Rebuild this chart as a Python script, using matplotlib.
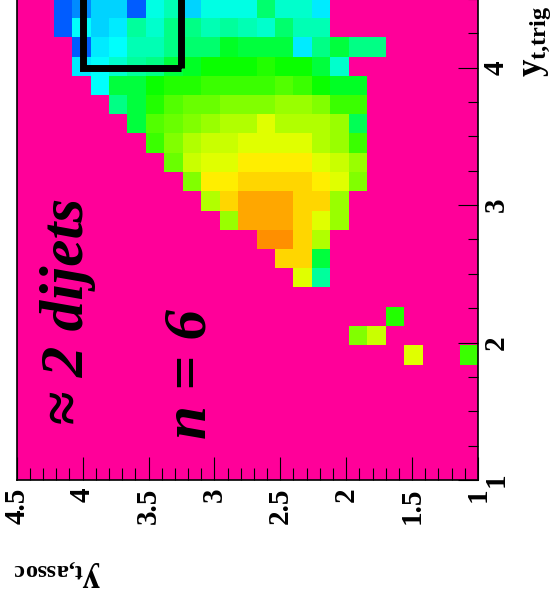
import colorsys
import numpy as np
import matplotlib
matplotlib.use("Agg")
import matplotlib.pyplot as plt
from matplotlib.colors import ListedColormap, Normalize
from matplotlib.patches import Rectangle
from matplotlib.ticker import MultipleLocator, FormatStrFormatter

plt.rcParams['font.family'] = ['Liberation Serif', 'DejaVu Serif']
plt.rcParams['font.weight'] = 'bold'
plt.rcParams['mathtext.fontset'] = 'custom'
plt.rcParams['mathtext.bf'] = 'Liberation Serif:bold'
plt.rcParams['mathtext.rm'] = 'Liberation Serif:bold'
plt.rcParams['mathtext.it'] = 'Liberation Serif:bold:italic'

# ---------------- data ----------------
# histogram range / binning (25 x 25 bins from 1 to 4.5)
assoc_edges = np.linspace(1.0, 4.5, 26)
trig_edges = np.linspace(1.0, 4.5, 26)

# cell contents in palette units (0 = empty), rows = y_t,trig bins (low -> high),
# columns = y_t,assoc bins (low -> high)
row06 = [30,0,0,37,0,0,0,0,0,0,0,0,0,0,0,0,0,0,0,0,0,0,0,0,0]
row07 = [0,0,0,0,0,36,33,0,0,0,0,0,0,0,0,0,0,0,0,0,0,0,0,0,0]
row08 = [0,0,0,0,29,0,0,0,0,0,0,0,0,0,0,0,0,0,0,0,0,0,0,0,0]
row09 = [0]*25
row10 = [0,0,0,0,0,0,0,0,21,37,0,0,0,0,0,0,0,0,0,0,0,0,0,0,0]
row11 = [0,0,0,0,0,0,0,0,25,40,40,0,0,0,0,0,0,0,0,0,0,0,0,0,0]
row12 = [0,0,0,0,0,0,0,0,35,40,43,43,0,0,0,0,0,0,0,0,0,0,0,0,0]
row13 = [0,0,0,0,0,0,0,34,37,40,42,42,42,34,0,0,0,0,0,0,0,0,0,0,0]
row14 = [0,0,0,0,0,0,0,34,40,40,42,42,42,40,35,0,0,0,0,0,0,0,0,0,0]
row15 = [0,0,0,0,0,0,33,37,39,40,40,40,40,39,39,33,0,0,0,0,0,0,0,0,0]
row16 = [0,0,0,0,0,0,34,36,37,39,39,39,39,37,37,36,32,0,0,0,0,0,0,0,0]
row17 = [0,0,0,0,0,0,30,34,35,37,37,37,37,36,36,35,33,30,0,0,0,0,0,0,0]
row18 = [0,0,0,0,0,0,24,34,35,35,35,37,35,35,34,33,32,31,25,0,0,0,0,0,0]
row19 = [0,0,0,0,0,0,30,30,33,34,34,33,33,33,32,32,31,29,25,22,0,0,0,0,0]
row20 = [0,0,0,0,0,0,26,26,28,30,31,30,30,30,30,29,29,28,25,25,17,0,0,0,0]
row21 = [0,0,0,0,0,0,0,19,25,28,28,29,28,28,28,26,25,22,21,19,17,16,0,0,0]
row22 = [0,0,0,0,0,22,22,25,22,16,25,25,25,26,23,23,22,20,20,17,16,10,0,0,0]
row23 = [0,0,0,0,0,0,0,0,20,20,23,19,20,21,20,22,22,19,21,16,15,17,10,0,0]
row24 = [0,0,0,0,0,0,0,0,16,19,19,23,18,18,18,15,20,18,10,15,15,12,10,0,0]
rows_low = [[0]*25 for _ in range(6)]
content = rows_low + [row06, row07, row08, row09, row10, row11, row12, row13,
                      row14, row15, row16, row17, row18, row19, row20, row21,
                      row22, row23, row24]

tick_label_fmt = '%g'
box_assoc = (3.25, 4.0)
box_trig = (4.0, 4.5)
label_dijets = '\u2248 2 dijets'
label_n = 'n = 6'
title_trig = r'$\mathbf{y}_{\mathbf{t{,}trig}}$'
title_assoc = r'$\mathbf{y}_{\mathbf{t{,}assoc}}$'

# ---------------- palette (ROOT "pretty" palette, 50 colours) ----------------
ncol = 50
pal = []
for k in range(ncol):
    hue = 280.0 - (k + 1) * (280.0 / ncol)
    pal.append(colorsys.hls_to_rgb(hue / 360.0, 0.5, 1.0))
cmap = ListedColormap(pal)

Z = np.array(content, dtype=float)
Z = np.ma.masked_where(Z <= 0, Z + 0.5)

# ---------------- figure ----------------
W, H = 559, 596
fig = plt.figure(figsize=(W / 100, H / 100), dpi=100)
fig.patch.set_facecolor('white')
ax = fig.add_axes([16.7 / W, (H - 480) / H, 461.3 / W, 481.25 / H])
ax.set_facecolor('#ff0099')

ax.pcolormesh(assoc_edges, trig_edges, Z, cmap=cmap,
              norm=Normalize(0, ncol), edgecolors='none', antialiased=False,
              shading='flat')

ax.set_xlim(4.5, 1.0)
ax.set_ylim(1.0, 4.5)

ax.xaxis.set_major_locator(MultipleLocator(0.5))
ax.xaxis.set_minor_locator(MultipleLocator(0.1))
ax.yaxis.set_major_locator(MultipleLocator(1.0))
ax.yaxis.set_minor_locator(MultipleLocator(0.25))
ax.xaxis.set_major_formatter(FormatStrFormatter(tick_label_fmt))
ax.yaxis.set_major_formatter(FormatStrFormatter(tick_label_fmt))
ax.yaxis.tick_right()

ax.tick_params(axis='x', which='major', direction='in', length=16.5, width=0.8,
               pad=5.5, labelsize=21, labelrotation=90, top=False)
ax.tick_params(axis='x', which='minor', direction='in', length=8.5, width=0.8,
               top=False)
ax.tick_params(axis='y', which='major', direction='in', length=14.4, width=0.8,
               pad=3.5, labelsize=21, labelrotation=90, left=False, right=True)
ax.tick_params(axis='y', which='minor', direction='in', length=7.2, width=0.8,
               left=False, right=True)
for lab in ax.get_yticklabels():
    lab.set_va('center')
    lab.set_ha('left')
for lab in ax.get_xticklabels():
    lab.set_va('top')
    lab.set_ha('center')

for s in ax.spines.values():
    s.set_linewidth(1.2)
    s.set_color('black')

# highlighted box
ax.add_patch(Rectangle((box_assoc[0], box_trig[0]), box_assoc[1] - box_assoc[0],
                       box_trig[1] - box_trig[0], fill=False, edgecolor='black',
                       linewidth=5, joinstyle='miter', clip_on=False, zorder=5))

# annotations
ax.text(4.0, 1.4, label_dijets, rotation=90, rotation_mode='anchor', ha='left',
        va='baseline', fontsize=44, fontstyle='italic', fontweight='bold',
        family=['Liberation Serif', 'DejaVu Serif'], zorder=6)
ax.text(3.07, 1.30, label_n, rotation=90, rotation_mode='anchor', ha='left',
        va='baseline', fontsize=44, fontstyle='italic', fontweight='bold',
        family=['Liberation Serif', 'DejaVu Serif'], zorder=6)

# axis titles
fig.text(541 / W, (H - 77) / H, title_trig, rotation=90,
         rotation_mode='anchor', ha='left', va='baseline', fontsize=25)
fig.text(101 / W, (H - 569.5) / H, title_assoc, rotation=180,
         rotation_mode='anchor', ha='left', va='baseline', fontsize=25)

fig.savefig('out.png', dpi=100)
